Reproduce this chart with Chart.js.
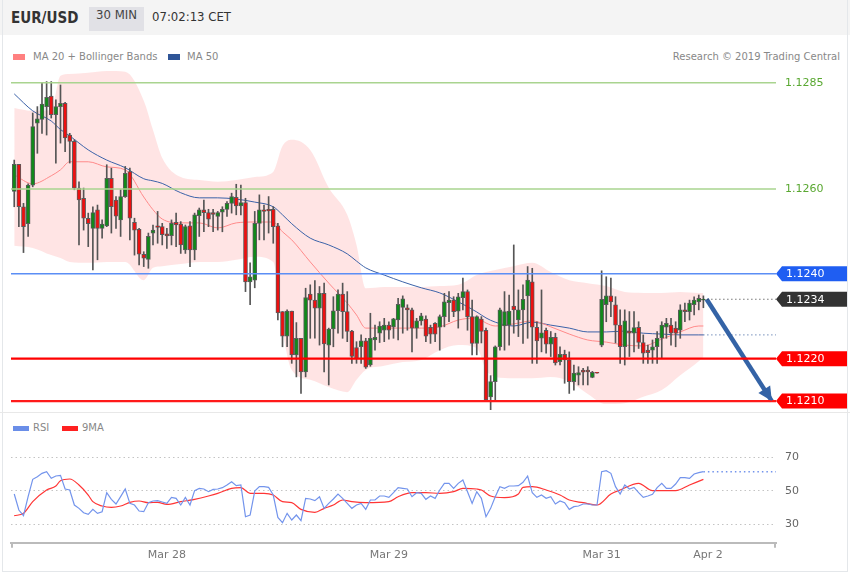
<!DOCTYPE html>
<html>
<head>
<meta charset="utf-8">
<title>EUR/USD 30 MIN</title>
<script src="https://cdn.jsdelivr.net/npm/chart.js@4.4.1/dist/chart.umd.min.js"></script>
<style>
  body { margin: 0; background: #fff; }
  #page { position: relative; width: 850px; height: 576px; overflow: hidden; font-family: "DejaVu Sans", sans-serif; }
  #frame { position: absolute; left: 2px; top: 0; width: 844px; height: 571px; border-left: 1px solid #e4e7ea; border-right: 1px solid #e4e7ea; border-bottom: 1px solid #e4e7ea; }
  #head { position: absolute; left: 0; top: 0; width: 850px; height: 35px; background: #f4f4f4; }
  .abs { position: absolute; white-space: nowrap; }
  #sym { left: 11px; top: 9px; line-height: 20px; font: bold 15px "DejaVu Sans Condensed", "DejaVu Sans", sans-serif; color: #333; }
  #tf { left: 89px; top: 7px; width: 55px; height: 24px; line-height: 24px; text-align: center; background: #e1e1e6; font: 13px "DejaVu Sans Condensed", "DejaVu Sans", sans-serif; color: #444; }
  #time { left: 152px; top: 9px; line-height: 20px; font: 13px "DejaVu Sans Condensed", "DejaVu Sans", sans-serif; color: #333; }
  .leg { font-size: 10px; color: #888; line-height: 12px; }
  .sw { position: absolute; }
  #sep { position: absolute; left: 0; top: 412px; width: 850px; height: 1px; background: #e8e8e8; }
  canvas { position: absolute; left: 0; }
</style>
</head>
<body>
<div id="page">
  <div id="head"></div>
  <div id="frame"></div>
  <div id="sep"></div>
  <span class="abs" id="sym">EUR/USD</span>
  <span class="abs" id="tf">30 MIN</span>
  <span class="abs" id="time">07:02:13 CET</span>

  <div class="sw" style="left:13px;top:54px;width:12px;height:6px;background:#ff8080"></div>
  <span class="abs leg" style="left:33px;top:51px">MA 20 + Bollinger Bands</span>
  <div class="sw" style="left:168px;top:54px;width:12px;height:6px;background:#2f5597"></div>
  <span class="abs leg" style="left:187px;top:51px">MA 50</span>
  <span class="abs leg" style="right:10px;top:51px">Research © 2019 Trading Central</span>

  <div class="sw" style="left:13px;top:426px;width:16px;height:5px;background:#6a8ee8"></div>
  <span class="abs leg" style="left:33px;top:422px">RSI</span>
  <div class="sw" style="left:62px;top:426px;width:16px;height:5px;background:#ff2020"></div>
  <span class="abs leg" style="left:82px;top:422px">9MA</span>

  <canvas id="price" width="850" height="355" style="top:60px"></canvas>
  <canvas id="rsi" width="850" height="161" style="top:415px"></canvas>
</div>
<script>
// 30 min candles, EUR/USD
var opens = [1.12594,1.12658,1.12558,1.12518,1.12609,1.12755,1.12764,1.12794,1.12819,1.12775,
  1.12794,1.12802,1.12727,1.12712,1.12602,1.12578,1.12531,1.12507,1.12551,1.12507,
  1.12513,1.12625,1.12574,1.12527,1.12582,1.12641,1.12521,1.12505,1.12446,1.12434,
  1.12496,1.12513,1.12511,1.12494,1.12490,1.12521,1.12517,1.12456,1.12513,1.12456,
  1.12537,1.12551,1.12544,1.12544,1.12535,1.12545,1.12552,1.12566,1.12580,1.12560,
  1.12568,1.12381,1.12385,1.12519,1.12551,1.12552,1.12552,1.12513,1.12311,1.12253,
  1.12312,1.12209,1.12248,1.12169,1.12352,1.12338,1.12319,1.12354,1.12232,1.12270,
  1.12313,1.12352,1.12311,1.12265,1.12226,1.12228,1.12242,1.12185,1.12244,1.12260,
  1.12267,1.12279,1.12275,1.12291,1.12321,1.12320,1.12315,1.12272,1.12289,1.12293,
  1.12274,1.12283,1.12274,1.12299,1.12332,1.12338,1.12312,1.12344,1.12358,1.12299,
  1.12236,1.12293,1.12267,1.12110,1.12146,1.12228,1.12277,1.12279,1.12324,1.12291,
  1.12315,1.12348,1.12381,1.12274,1.12248,1.12267,1.12234,1.12250,1.12193,1.12210,
  1.12197,1.12146,1.12161,1.12173,1.12173,1.12156,1.12168,1.12232,1.12327,1.12348,
  1.12327,1.12279,1.12228,1.12265,1.12260,1.12274,1.12238,1.12220,1.12220,1.12228,
  1.12248,1.12274,1.12279,1.12272,1.12267,1.12315,1.12311,1.12327,1.12334,1.12338];
var highs = [1.12668,1.12658,1.12566,1.12612,1.12779,1.12794,1.12851,1.12853,1.12853,1.12810,
  1.12845,1.12804,1.12731,1.12716,1.12617,1.12602,1.12543,1.12558,1.12562,1.12527,
  1.12657,1.12649,1.12582,1.12598,1.12653,1.12649,1.12531,1.12507,1.12452,1.12496,
  1.12515,1.12547,1.12519,1.12507,1.12527,1.12543,1.12523,1.12515,1.12523,1.12543,
  1.12555,1.12574,1.12552,1.12552,1.12547,1.12558,1.12570,1.12590,1.12611,1.12609,
  1.12578,1.12426,1.12547,1.12586,1.12562,1.12582,1.12558,1.12519,1.12311,1.12315,
  1.12312,1.12285,1.12248,1.12366,1.12374,1.12384,1.12370,1.12378,1.12272,1.12346,
  1.12362,1.12378,1.12358,1.12267,1.12240,1.12256,1.12248,1.12307,1.12279,1.12287,
  1.12295,1.12287,1.12295,1.12342,1.12348,1.12327,1.12319,1.12295,1.12307,1.12301,
  1.12279,1.12285,1.12303,1.12354,1.12358,1.12346,1.12354,1.12390,1.12362,1.12338,
  1.12301,1.12299,1.12272,1.12160,1.12230,1.12319,1.12358,1.12350,1.12468,1.12362,
  1.12374,1.12417,1.12413,1.12287,1.12362,1.12272,1.12264,1.12260,1.12228,1.12220,
  1.12216,1.12185,1.12181,1.12177,1.12181,1.12170,1.12168,1.12407,1.12393,1.12390,
  1.12346,1.12315,1.12315,1.12311,1.12311,1.12287,1.12256,1.12232,1.12244,1.12264,
  1.12287,1.12295,1.12295,1.12287,1.12327,1.12331,1.12338,1.12346,1.12350,1.12348];
var lows = [1.12558,1.12511,1.12450,1.12488,1.12605,1.12684,1.12731,1.12727,1.12767,1.12661,
  1.12708,1.12688,1.12661,1.12598,1.12468,1.12503,1.12464,1.12409,1.12433,1.12484,
  1.12511,1.12496,1.12507,1.12488,1.12580,1.12480,1.12444,1.12421,1.12417,1.12413,
  1.12468,1.12472,1.12468,1.12460,1.12468,1.12464,1.12448,1.12448,1.12417,1.12433,
  1.12488,1.12499,1.12511,1.12499,1.12503,1.12499,1.12535,1.12543,1.12539,1.12539,
  1.12358,1.12327,1.12367,1.12480,1.12480,1.12496,1.12472,1.12291,1.12228,1.12228,
  1.12189,1.12157,1.12118,1.12157,1.12248,1.12248,1.12232,1.12169,1.12138,1.12228,
  1.12260,1.12248,1.12240,1.12189,1.12189,1.12189,1.12177,1.12182,1.12220,1.12238,
  1.12240,1.12246,1.12248,1.12244,1.12260,1.12267,1.12216,1.12248,1.12279,1.12240,
  1.12236,1.12240,1.12220,1.12275,1.12287,1.12299,1.12272,1.12315,1.12267,1.12209,
  1.12209,1.12237,1.12099,1.12079,1.12099,1.12220,1.12220,1.12232,1.12260,1.12252,
  1.12236,1.12248,1.12189,1.12189,1.12216,1.12213,1.12205,1.12185,1.12185,1.12142,
  1.12118,1.12126,1.12138,1.12138,1.12138,1.12155,1.12166,1.12228,1.12287,1.12299,
  1.12237,1.12189,1.12185,1.12205,1.12216,1.12224,1.12189,1.12189,1.12189,1.12189,
  1.12201,1.12248,1.12232,1.12228,1.12248,1.12287,1.12291,1.12303,1.12315,1.12320];
var closes = [1.12658,1.12558,1.12511,1.12609,1.12747,1.12765,1.12800,1.12816,1.12775,1.12794,
  1.12802,1.12720,1.12712,1.12602,1.12574,1.12531,1.12518,1.12544,1.12507,1.12517,
  1.12625,1.12558,1.12536,1.12582,1.12637,1.12531,1.12503,1.12446,1.12437,1.12488,
  1.12503,1.12509,1.12492,1.12489,1.12519,1.12515,1.12468,1.12511,1.12456,1.12539,
  1.12551,1.12544,1.12529,1.12540,1.12544,1.12552,1.12566,1.12582,1.12560,1.12568,
  1.12381,1.12393,1.12519,1.12551,1.12547,1.12548,1.12511,1.12308,1.12253,1.12312,
  1.12209,1.12248,1.12169,1.12344,1.12338,1.12319,1.12354,1.12235,1.12270,1.12313,
  1.12352,1.12311,1.12264,1.12205,1.12201,1.12242,1.12180,1.12248,1.12250,1.12277,
  1.12279,1.12267,1.12294,1.12328,1.12341,1.12315,1.12272,1.12289,1.12301,1.12253,
  1.12258,1.12258,1.12299,1.12334,1.12338,1.12311,1.12346,1.12358,1.12299,1.12236,
  1.12299,1.12264,1.12103,1.12146,1.12228,1.12315,1.12311,1.12312,1.12315,1.12315,
  1.12340,1.12385,1.12274,1.12242,1.12261,1.12234,1.12250,1.12190,1.12210,1.12197,
  1.12146,1.12166,1.12167,1.12168,1.12169,1.12168,1.12166,1.12340,1.12348,1.12334,
  1.12279,1.12228,1.12289,1.12260,1.12273,1.12238,1.12213,1.12214,1.12228,1.12248,
  1.12279,1.12283,1.12260,1.12260,1.12315,1.12311,1.12331,1.12338,1.12342,1.12340];

// MA 20 + Bollinger Bands and MA 50, read at these candle positions
var bandIdx = [0,4,8,10,12,16,20,24,28,30,32,36,40,44,48,52,56,58,60,64,68,72,74,76,80,84,88,92,96,100,102,104,108,112,116,120,124,128,132,136,140,144,148,149];
var bandUpper = [1.12791,1.12784,1.12786,1.12867,1.12871,1.12874,1.12878,1.12876,1.12808,1.12739,1.12673,1.12628,1.12621,1.12617,1.12621,1.12628,1.12640,1.12701,1.12716,1.12692,1.12603,1.12539,1.12468,1.12366,1.12369,1.12369,1.12369,1.12371,1.12374,1.12397,1.12404,1.12409,1.12418,1.12426,1.12404,1.12385,1.12378,1.12371,1.12357,1.12355,1.12355,1.12357,1.12355,1.12355];
var bandLower = [1.12466,1.12461,1.12444,1.12437,1.12428,1.12426,1.12428,1.12428,1.12385,1.12414,1.12418,1.12423,1.12428,1.12428,1.12433,1.12440,1.12428,1.12268,1.12173,1.12150,1.12133,1.12121,1.12150,1.12173,1.12183,1.12192,1.12197,1.12220,1.12232,1.12225,1.12173,1.12157,1.12154,1.12154,1.12157,1.12147,1.12117,1.12093,1.12095,1.12110,1.12126,1.12161,1.12194,1.12204];
var ma20 = [1.12633,1.12612,1.12631,1.12645,1.12664,1.12664,1.12652,1.12645,1.12581,1.12551,1.12529,1.12520,1.12520,1.12508,1.12520,1.12522,1.12522,1.12499,1.12480,1.12428,1.12378,1.12331,1.12303,1.12272,1.12272,1.12272,1.12272,1.12275,1.12291,1.12296,1.12284,1.12277,1.12282,1.12289,1.12275,1.12258,1.12244,1.12239,1.12232,1.12230,1.12246,1.12263,1.12277,1.12277];
var ma50 = [1.12824,1.12784,1.12760,1.12740,1.12725,1.12692,1.12668,1.12650,1.12624,1.12619,1.12613,1.12591,1.12579,1.12579,1.12576,1.12569,1.12558,1.12539,1.12518,1.12484,1.12468,1.12447,1.12430,1.12414,1.12397,1.12381,1.12367,1.12355,1.12334,1.12310,1.12296,1.12286,1.12277,1.12286,1.12279,1.12272,1.12263,1.12263,1.12265,1.12260,1.12258,1.12256,1.12256,1.12256];

// levels
var greenLevels = [1.1285, 1.1260];
var tagLevels = [1.1240, 1.1234, 1.1220, 1.1210];
var tagColors = ['#1f5ef2', '#333333', '#ff0000', '#ff0000'];
var forecastX = [149.7, 163.8];
var forecastY = [1.1234, 1.1210];

// RSI (one value per candle) and its 9 period MA
var rsi = [48,38.4,35,46.4,56.8,58.4,60.4,61.4,57.4,58.8,
  59.2,51,50.4,41.4,39.4,36.8,35.8,38.8,36.4,37.4,
  48.8,44.8,42,46.4,51,42.4,41.4,37.8,37.4,42.8,
  43.8,44,43.2,42.4,46,45.4,41.4,46,41.4,50,
  51.4,51,49.4,50.8,51,51.8,53.4,55.4,53,53.4,
  34.4,35.4,49.8,52.4,52.4,52,47.4,34,30.8,36.4,
  32.4,35.4,32,45.4,45,44,46.4,39.4,42.4,45,
  48,45.4,42.4,39.4,41.4,42.4,38.8,44.4,44.4,46.8,
  46.8,46,48.8,51.8,51.4,51,46.4,48.8,48.4,44.8,
  46.8,45.4,50.4,54.4,54.4,51.4,54.4,56.4,49.4,42.4,
  49.4,45.4,34.4,39.4,46.4,52.4,51.4,52.8,52.8,53,
  55,58.8,48.8,46,47.4,45.4,46.4,42,43.8,42.8,
  38.8,40.4,40.8,42,42,41.4,41.4,61.4,62,60.4,
  52.4,48,53.4,51,52,48.8,46,46.8,47.8,51.8,
  54.4,51.4,51.4,54,57.8,57.8,57.4,60,60.8,61.4];
var maIdx = [0,2,4,7,9,10,12,14,16,17,19,21,23,25,27,29,31,33,36,39,42,44,47,49,51,54,56,58,60,62,65,67,69,71,73,76,81,83,86,89,92,95,97,100,101,103,106,109,110,112,115,118,120,123,126,129,131,135,138,140,143,146,149];
var rsiMa = [35,36.4,43.4,50.4,52.8,56,57,53.4,47.4,43.4,40.8,40,40.8,43,43.8,42.8,43,41.8,43.4,44.8,46.8,48.4,51.4,51.8,48.4,48.4,47.4,43.4,42.8,38.8,37,39.4,41.4,44.4,43.4,42.8,43.4,46.4,48.8,48.8,48.4,49.4,51.4,51,50.4,46.8,45.8,48,52,52.4,50.4,47.4,44.4,42.8,41.4,48,50.4,54.4,50,50,50,53.4,56.8];
var rsiTicks = [30, 50, 70];

var dayTicks = [33, 81, 127, 150];
var dayLabels = ["Mar 28", "Mar 29", "Mar 31", "Apr 2"];

var xMin = -0.7, xMax = 164.7;
var last = closes.length - 1;

function pts(idx, vals) {
  return idx.map(function (i, k) { return { x: i, y: vals[k] }; });
}
function flat(v) {
  return [{ x: xMin, y: v }, { x: xMax, y: v }];
}

var bodies = opens.map(function (o, i) {
  var c = closes[i];
  if (o === c) c = o - 0.00001;
  return { x: i, y: [o, c] };
});
var wicks = highs.map(function (h, i) { return { x: i, y: [lows[i], h] }; });
var bodyColors = opens.map(function (o, i) { return closes[i] >= o ? '#11891a' : '#ee1010'; });

var levelTags = {
  id: 'levelTags',
  afterDatasetsDraw: function (chart) {
    var ctx = chart.ctx, y = chart.scales.y, area = chart.chartArea;
    ctx.save();
    ctx.font = '11px "DejaVu Sans"';
    ctx.textBaseline = 'middle';
    greenLevels.forEach(function (v) {
      ctx.fillStyle = '#5aa832';
      ctx.fillText(v.toFixed(4), area.right + 9, y.getPixelForValue(v) + 0.5);
    });
    tagLevels.forEach(function (v, k) {
      var py = y.getPixelForValue(v), x0 = area.right;
      ctx.fillStyle = tagColors[k];
      ctx.beginPath();
      ctx.moveTo(x0, py);
      ctx.lineTo(x0 + 6, py - 7.5);
      ctx.lineTo(x0 + 71, py - 7.5);
      ctx.lineTo(x0 + 71, py + 7.5);
      ctx.lineTo(x0 + 6, py + 7.5);
      ctx.closePath();
      ctx.fill();
      ctx.fillStyle = '#fff';
      ctx.fillText(v.toFixed(4), x0 + 10, py + 0.5);
    });
    // arrow head of the forecast line
    var meta = chart.getDatasetMeta(chart.data.datasets.findIndex(function (d) { return d.label === 'forecast'; }));
    var p0 = meta.data[0], p1 = meta.data[1];
    var a = Math.atan2(p1.y - p0.y, p1.x - p0.x);
    ctx.fillStyle = '#3463a6';
    ctx.beginPath();
    ctx.moveTo(p1.x, p1.y);
    ctx.lineTo(p1.x - 14 * Math.cos(a) + 7 * Math.sin(a), p1.y - 14 * Math.sin(a) - 7 * Math.cos(a));
    ctx.lineTo(p1.x - 14 * Math.cos(a) - 7 * Math.sin(a), p1.y - 14 * Math.sin(a) + 7 * Math.cos(a));
    ctx.closePath();
    ctx.fill();
    ctx.restore();
  }
};

var lineBase = { type: 'line', pointRadius: 0, borderWidth: 1, fill: false };

var priceChart = new Chart(document.getElementById('price'), {
  type: 'bar',
  data: {
    datasets: [
      Object.assign({}, lineBase, { label: 'l1', data: flat(greenLevels[0]), borderColor: '#a9d48f', borderWidth: 1.5, order: 0 }),
      Object.assign({}, lineBase, { label: 'l2', data: flat(greenLevels[1]), borderColor: '#a9d48f', borderWidth: 1.5, order: 0 }),
      Object.assign({}, lineBase, { label: 'l3', data: flat(tagLevels[0]), borderColor: '#5b8ef5', borderWidth: 1.5, order: 0 }),
      Object.assign({}, lineBase, { label: 'l5', data: flat(tagLevels[2]), borderColor: '#ff0000', borderWidth: 2.2, order: 0 }),
      Object.assign({}, lineBase, { label: 'l6', data: flat(tagLevels[3]), borderColor: '#ff1a1a', borderWidth: 2.2, order: 0 }),
      Object.assign({}, lineBase, { label: 'lastDots', data: [{ x: last, y: tagLevels[1] }, { x: xMax, y: tagLevels[1] }], borderColor: '#333', borderDash: [1, 3], order: 0 }),
      Object.assign({}, lineBase, { label: 'ma50Dots', data: [{ x: last, y: ma50[ma50.length - 1] }, { x: xMax, y: ma50[ma50.length - 1] }], borderColor: '#2f5597', borderDash: [1, 3], order: 0 }),
      Object.assign({}, lineBase, { label: 'forecast', data: pts(forecastX, forecastY), borderColor: '#3463a6', borderWidth: 4.5, order: 0 }),
      { type: 'bar', label: 'bodies', data: bodies, backgroundColor: bodyColors, borderColor: '#5a5a5a', borderWidth: 1, borderSkipped: false, barThickness: 4, grouped: false, order: 1 },
      { type: 'bar', label: 'wicks', data: wicks, backgroundColor: '#555', borderWidth: 0, barThickness: 1, grouped: false, order: 2 },
      Object.assign({}, lineBase, { label: 'MA 20', data: pts(bandIdx, ma20), borderColor: '#ff8a8a', cubicInterpolationMode: 'monotone', order: 3 }),
      Object.assign({}, lineBase, { label: 'MA 50', data: pts(bandIdx, ma50), borderColor: '#3b62a8', cubicInterpolationMode: 'monotone', order: 3 }),
      Object.assign({}, lineBase, { label: 'upper', data: pts(bandIdx, bandUpper), borderWidth: 0, borderColor: 'rgba(0,0,0,0)', backgroundColor: 'rgba(255,150,150,0.26)', fill: '+1', cubicInterpolationMode: 'monotone', order: 5 }),
      Object.assign({}, lineBase, { label: 'lower', data: pts(bandIdx, bandLower), borderWidth: 0, borderColor: 'rgba(0,0,0,0)', cubicInterpolationMode: 'monotone', order: 5 })
    ]
  },
  options: {
    responsive: false,
    animation: false,
    layout: { padding: { left: 11, right: 74, top: 8, bottom: 5 } },
    plugins: { legend: { display: false }, tooltip: { enabled: false } },
    scales: {
      x: { type: 'linear', min: xMin, max: xMax, offset: false, display: false },
      y: { type: 'linear', min: 1.12079, max: 1.12885, beginAtZero: false, display: false }
    }
  },
  plugins: [levelTags]
});

var axisEnds = {
  id: 'axisEnds',
  afterDraw: function (chart) {
    var ctx = chart.ctx, a = chart.chartArea;
    ctx.save();
    ctx.strokeStyle = '#bbb';
    ctx.lineWidth = 2;
    [a.left + 1, a.right - 1].forEach(function (x) {
      ctx.beginPath();
      ctx.moveTo(x, a.bottom);
      ctx.lineTo(x, a.bottom + 5);
      ctx.stroke();
    });
    ctx.restore();
  }
};

var rsiChart = new Chart(document.getElementById('rsi'), {
  type: 'line',
  data: {
    datasets: [
      { label: 'RSI', data: rsi.map(function (v, i) { return { x: i, y: v }; }), borderColor: '#7394ec', borderWidth: 1.2, pointRadius: 0 },
      { label: 'RSI ext', data: [{ x: last, y: rsi[last] }, { x: xMax, y: rsi[last] }], borderColor: '#7394ec', borderWidth: 1.5, borderDash: [1.5, 3], pointRadius: 0 },
      { label: '9MA', data: pts(maIdx, rsiMa), borderColor: '#ff3535', borderWidth: 1.2, pointRadius: 0, cubicInterpolationMode: 'monotone' }
    ]
  },
  options: {
    responsive: false,
    animation: false,
    layout: { padding: { left: 11, right: 14, top: 25, bottom: 0 } },
    plugins: { legend: { display: false }, tooltip: { enabled: false } },
    scales: {
      x: {
        type: 'linear', min: xMin, max: xMax, offset: false,
        afterBuildTicks: function (s) { s.ticks = dayTicks.map(function (v) { return { value: v }; }); },
        afterFit: function (s) { s.height = 33.3; },
        ticks: {
          autoSkip: false, maxRotation: 0, padding: 6, color: '#777',
          font: { family: 'DejaVu Sans', size: 11 },
          callback: function (v, i) { return dayLabels[i]; }
        },
        grid: { display: false, drawTicks: false },
        border: { display: true, color: '#bbb', width: 2 }
      },
      y: {
        position: 'right', min: 18.8, max: 80.4,
        afterBuildTicks: function (s) { s.ticks = rsiTicks.map(function (v) { return { value: v }; }); },
        afterFit: function (s) { s.width = 60; },
        ticks: { padding: 9, color: '#666', font: { family: 'DejaVu Sans', size: 11 } },
        grid: { color: '#c4c4c4', drawTicks: false },
        border: { display: false, dash: [1.5, 3] }
      }
    }
  },
  plugins: [axisEnds]
});
</script>
</body>
</html>
